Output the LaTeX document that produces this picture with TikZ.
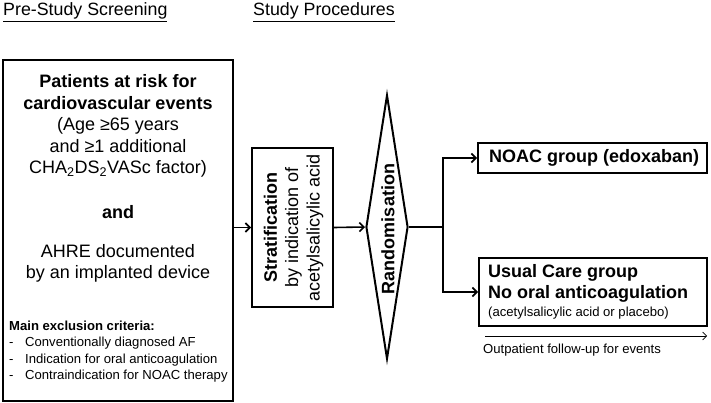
\documentclass[tikz,border=0pt]{standalone}
\usepackage{fontspec}
\setmainfont{Liberation Sans}
\usetikzlibrary{arrows.meta,shapes.geometric}
\begin{document}
\begin{tikzpicture}[x=1pt,y=-1pt,
  box/.style={draw,line width=2pt,inner sep=0pt},
  bigfont/.style={font=\fontsize{18}{21.4}\selectfont},
  bigbold/.style={font=\fontsize{18}{21.4}\selectfont\bfseries},
  smallfont/.style={font=\fontsize{13.1}{16.3}\selectfont},
  conn/.style={line width=1.6pt,-{Straight Barb[length=4.5pt,width=9pt]}},
  plain/.style={line width=1.6pt},
  txt/.style={inner sep=0pt}]
\useasboundingbox (0,0) rectangle (711,403);
% headings
\node[txt,font=\fontsize{17.8}{20}\selectfont,anchor=base west] (h1) at (3,16) {\underline{Pre-Study Screening}};
\node[txt,font=\fontsize{17.8}{20}\selectfont,anchor=base west] (h2) at (253,16) {\underline{Study Procedures}};
% screening box
\node[box,minimum width=230,minimum height=341] (screen) at (118,230.5) {};
\node[txt,bigfont,align=center] (risk) at (118,126)
  {\textbf{Patients at risk for}\\ \textbf{cardiovascular events}\\(Age ≥65 years\\and ≥1 additional\\CHA\textsubscript{2}DS\textsubscript{2}VASc factor)};
\node[txt,bigbold] (and) at (118,212) {and};
\node[txt,bigfont,align=center] (ahre) at (118,263.5) {AHRE documented\\by an implanted device};
\node[txt,smallfont,align=left,anchor=west] (excl) at (9,351.5)
  {\textbf{Main exclusion criteria:}\\
   \makebox[16pt][l]{-}Conventionally diagnosed AF\\
   \makebox[16pt][l]{-}Indication for oral anticoagulation\\
   \makebox[16pt][l]{-}Contraindication for NOAC therapy};
% stratification
\node[box,minimum width=81,minimum height=159] (strat) at (292.5,227.5) {};
\node[txt,bigfont,align=center,rotate=90] (strattext) at (293.5,227.5)
  {\textbf{Stratification}\\by indication of\\acetylsalicylic acid};
% randomisation
\node[draw,line width=2pt,diamond,inner sep=0pt,aspect=0.16,minimum width=42,minimum height=264] (rand) at (387,227) {};
\node[txt,bigbold,rotate=90] (randtext) at (388,229) {Randomisation};
% groups
\node[box,minimum width=229,minimum height=30] (noac) at (592.5,158) {};
\node[txt,bigbold,anchor=west] (noactext) at (489,158) {NOAC group (edoxaban)};
\node[box,minimum width=228,minimum height=68] (usual) at (593,292) {};
\node[txt,bigbold,anchor=west] (usual1) at (488,273) {Usual Care group};
\node[txt,bigbold,anchor=west] (usual2) at (488,294) {No oral anticoagulation};
\node[txt,smallfont,anchor=west] (usual3) at (488,313) {(acetylsalicylic acid or placebo)};
% connectors
\coordinate (split) at (443,227);
\draw[conn] (screen.east |- strat.west) -- (strat.west);
\draw[conn] (strat.east) -- (rand.west);
\draw[plain] (rand.east) -- (split);
\draw[conn] (split) |- (noac.west);
\draw[conn] (split) |- (usual.west);
% follow-up
\coordinate (fu1) at (485,336);
\coordinate (fu2) at (707,336);
\draw[line width=0.6pt,-{Straight Barb[length=4pt,width=8pt,line width=0.6pt]}] (fu1) -- (fu2);
\node[txt,smallfont,anchor=west] (futext) at (483,350) {Outpatient follow-up for events};
\end{tikzpicture}
\end{document}
